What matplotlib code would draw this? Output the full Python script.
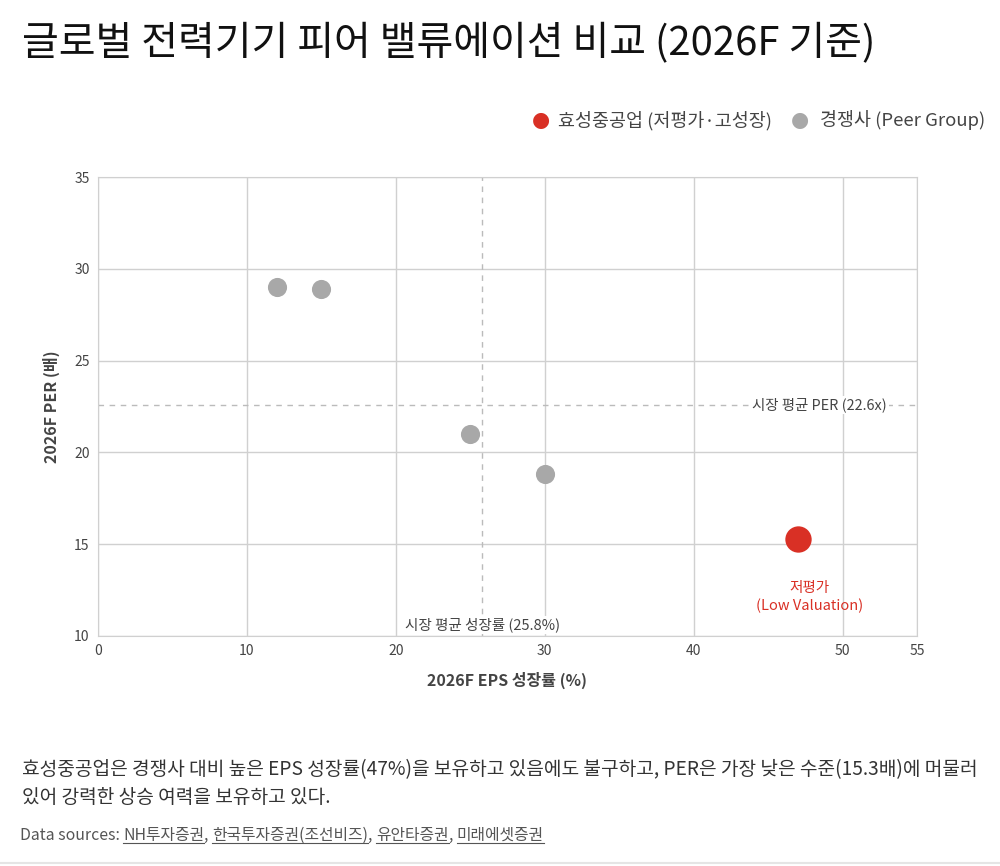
import matplotlib
matplotlib.use("Agg")
import matplotlib.pyplot as plt

plt.rcParams['font.family'] = ['Noto Sans CJK KR', 'DejaVu Sans']

peer_eps = [12, 15, 25, 30]
peer_per = [29.0, 28.9, 21.0, 18.8]
hs_eps = [47]
hs_per = [15.3]
avg_eps = 25.8
avg_per = 22.6

red = '#d93025'
gray = '#a8a8a8'
grid_c = '#d0d0d0'
text_c = '#444444'

fig = plt.figure(figsize=(10, 8.66), dpi=100)
ax = fig.add_axes([0.098, 0.2656, 0.819, 0.530])

ax.scatter(peer_eps, peer_per, s=190, color=gray, zorder=3, linewidths=0)
ax.scatter(hs_eps, hs_per, s=360, color=red, zorder=4, linewidths=0)

ax.axvline(avg_eps, color='#bbbbbb', lw=1, ls=(0, (4, 4)), zorder=1)
ax.axhline(avg_per, color='#bbbbbb', lw=1, ls=(0, (4, 4)), zorder=1)

ax.set_xlim(0, 55)
ax.set_ylim(10, 35)
ax.set_xticks([0, 10, 20, 30, 40, 50, 55])
ax.set_yticks([10, 15, 20, 25, 30, 35])
ax.grid(True, color=grid_c, lw=1)
ax.set_axisbelow(True)
for s in ax.spines.values():
    s.set_color(grid_c)
ax.tick_params(length=0, labelsize=10, colors=text_c, pad=6)

ax.set_xlabel('2026F EPS 성장률 (%)', fontsize=11.5, fontweight='bold', color=text_c, labelpad=10)
ax.set_ylabel('2026F PER (배)', fontsize=11.5, fontweight='bold', color=text_c, labelpad=10)

ax.text(53, avg_per, '시장 평균 PER (22.6x)', ha='right', va='center', fontsize=10.4, color=text_c,
        bbox=dict(facecolor='white', edgecolor='none', pad=1), zorder=2)
ax.text(avg_eps, 10.6, '시장 평균 성장률 (25.8%)', ha='center', va='center', fontsize=10.5, color=text_c,
        bbox=dict(facecolor='white', edgecolor='none', pad=1), zorder=2)
ax.text(47.8, 12.1, '저평가\n(Low Valuation)', ha='center', va='center', fontsize=10.5, color=red,
        linespacing=1.3)

fig.text(0.022, 0.951, '글로벌 전력기기 피어 밸류에이션 비교 (2026F 기준)', fontsize=28.8, color='#111111',
         ha='left', va='center')

# legend
fig.text(0.541, 0.861, '●', color=red, fontsize=15, ha='center', va='center', family='DejaVu Sans')
fig.text(0.558, 0.861, '효성중공업 (저평가·고성장)', color=text_c, fontsize=13.3, ha='left', va='center')
fig.text(0.800, 0.861, '●', color=gray, fontsize=15, ha='center', va='center', family='DejaVu Sans')
fig.text(0.820, 0.861, '경쟁사 (Peer Group)', color=text_c, fontsize=13.3, ha='left', va='center')

fig.text(0.022, 0.095, '효성중공업은 경쟁사 대비 높은 EPS 성장률(47%)을 보유하고 있음에도 불구하고, PER은 가장 낮은 수준(15.3배)에 머물러\n있어 강력한 상승 여력을 보유하고 있다.',
         fontsize=13.8, color='#333333', ha='left', va='center', linespacing=1.45)

# data sources with underlined links
fig.canvas.draw()
r = fig.canvas.get_renderer()
parts = [('Data sources: ', False), ('NH투자증권', True), (', ', False), ('한국투자증권(조선비즈)', True),
         (', ', False), ('유안타증권', True), (', ', False), ('미래에셋증권', True)]
x = 0.02
y = 0.03
for txt, ul in parts:
    t = fig.text(x, y, txt, fontsize=11.4, color='#555555', ha='left', va='baseline')
    bb = t.get_window_extent(r)
    w = bb.width / fig.bbox.width
    if ul:
        fig.add_artist(plt.Line2D([x, x + w], [y - 0.004, y - 0.004], color='#555555', lw=0.8,
                                  transform=fig.transFigure))
    x += w

fig.add_artist(plt.Line2D([0, 1], [0.003, 0.003], color='#e5e5e5', lw=1.5, transform=fig.transFigure))

fig.savefig('out.png', dpi=100, facecolor='white')
